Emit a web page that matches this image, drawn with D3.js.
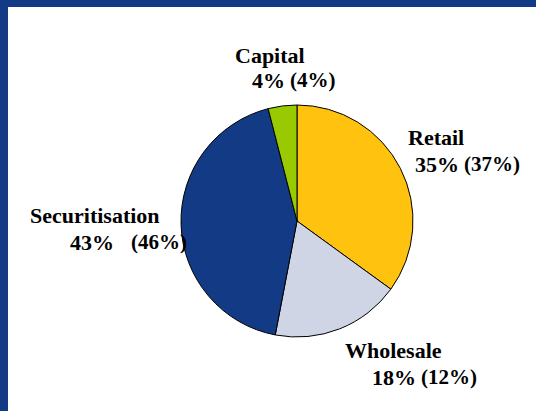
<!DOCTYPE html>
<html>
<head>
<meta charset="utf-8">
<script src="https://cdn.jsdelivr.net/npm/d3@7/dist/d3.min.js"></script>
<style>
  html, body { margin: 0; padding: 0; background: #fff; }
  svg { display: block; }
  text { font-family: "Liberation Serif", "Times New Roman", serif; font-weight: bold; fill: #000; }
</style>
</head>
<body>
<svg id="chart" width="536" height="411"></svg>
<script>
// Data
const categories = ["Retail", "Wholesale", "Securitisation", "Capital"];
const shares = [35, 18, 43, 4];          // current share (%)
const priorShares = [37, 12, 46, 4];     // figure in brackets (%)
const colors = ["#FFC20E", "#CFD5E4", "#133A84", "#99C900"];

// Layout (not data)
const W = 536, H = 411;
const cx = 297, cy = 221, R = 116;
const labelLayout = {
  "Retail":         { nameX: 408, nameY: 145, pctX: 415, pctY: 172, gap: 5 },
  "Wholesale":      { nameX: 345, nameY: 358, pctX: 372, pctY: 385, gap: 5 },
  "Securitisation": { nameX: 30,  nameY: 223, pctX: 70,  pctY: 250, gap: 17 },
  "Capital":        { nameX: 235, nameY: 63,  pctX: 252, pctY: 88,  gap: 5 }
};

const svg = d3.select("#chart");
svg.append("rect").attr("x", 0).attr("y", 0).attr("width", W).attr("height", H).attr("fill", "#fff");
svg.append("rect").attr("x", 0).attr("y", 0).attr("width", W).attr("height", 7).attr("fill", "#133A84");
svg.append("rect").attr("x", 0).attr("y", 0).attr("width", 8).attr("height", H).attr("fill", "#133A84");

const data = categories.map((c, i) => ({ name: c, value: shares[i], prior: priorShares[i], color: colors[i] }));

const pie = d3.pie().sort(null).value(d => d.value).startAngle(0).endAngle(2 * Math.PI);
const arc = d3.arc().innerRadius(0).outerRadius(R);

const g = svg.append("g").attr("transform", `translate(${cx},${cy})`);
g.selectAll("path")
  .data(pie(data))
  .join("path")
  .attr("d", arc)
  .attr("fill", d => d.data.color)
  .attr("stroke", "#000")
  .attr("stroke-width", 1);

// Labels
data.forEach(d => {
  const L = labelLayout[d.name];
  svg.append("text")
    .attr("x", L.nameX).attr("y", L.nameY)
    .attr("font-size", 22)
    .text(d.name);
  const t = svg.append("text")
    .attr("x", L.pctX).attr("y", L.pctY)
    .attr("font-size", 22);
  t.append("tspan").text(d.value + "%");
  t.append("tspan").attr("dx", L.gap).attr("font-size", 21).attr("dy", -1).text("(" + d.prior + "%)");
});
</script>
</body>
</html>
